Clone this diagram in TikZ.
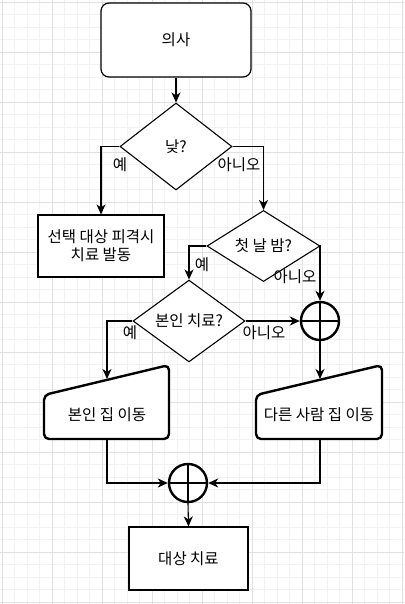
\documentclass[tikz,border=0pt]{standalone}
\usepackage{fontspec}
\setmainfont{Noto Sans CJK KR}
\usetikzlibrary{arrows.meta,shapes.geometric,calc}
\begin{document}
\begin{tikzpicture}[x=1pt,y=-1pt,
  every node/.style={font=\fontsize{15.5pt}{18pt}\selectfont, text=black, inner sep=0pt},
  minorgrid/.style={draw=black!5, line width=0.8pt},
  majorgrid/.style={draw=black!12, line width=0.8pt},
  thinbox/.style={draw=black, line width=1.2pt, fill=white},
  heavy/.style={draw=black, line width=2.4pt, fill=white, line join=round},
  decision/.style={diamond, draw=black, line width=1.1pt, fill=white, inner sep=0pt},
  junction/.style={circle, draw=black, line width=2.4pt, fill=white, minimum size=38pt},
  conn/.style={draw=black, line width=1.1pt, -{Stealth[length=10pt,width=9pt,inset=3pt]}},
  plainline/.style={draw=black, line width=1.1pt},
  elabel/.style={font=\fontsize{15.5pt}{18pt}\selectfont}
]
\useasboundingbox (0,0) rectangle (404,604);
\fill[white] (0,0) rectangle (404,604);
% grid
\foreach \i in {0,...,33} {
  \draw[minorgrid] ({-10.5+12.5*\i},0) -- ({-10.5+12.5*\i},604);
}
\foreach \i in {0,...,49} {
  \draw[minorgrid] (0,{-10.5+12.5*\i}) -- (404,{-10.5+12.5*\i});
}
\foreach \i in {0,...,8} {
  \draw[majorgrid] ({2+50*\i},0) -- ({2+50*\i},604);
}
\foreach \i in {0,...,12} {
  \draw[majorgrid] (0,{2+50*\i}) -- (404,{2+50*\i});
}

% nodes
\node[thinbox, rounded corners=8pt, minimum width=150pt, minimum height=74pt] (doc) at (176,40) {의사};
\node[decision, minimum width=112pt, minimum height=87pt] (day) at (176,146.5) {낮?};
\node[thinbox, minimum width=126pt, minimum height=62pt, align=center] (sel) at (101,246) {선택 대상 피격시\\치료 발동};
\node[decision, minimum width=113pt, minimum height=62pt] (night) at (263.5,246) {첫 날 밤?};
\node[junction] (j1) at (320,321) {};
\draw[line width=2.4pt] (j1.north) -- (j1.south) (j1.west) -- (j1.east);
\node[decision, minimum width=112pt, minimum height=62pt] (self) at (189,321) {본인 치료?};

% manual input shapes
\coordinate (hA) at (44,395);
\coordinate (hB) at (169,365);
\coordinate (hC) at (169,439);
\coordinate (hD) at (44,439);
\draw[heavy, rounded corners=5pt] (hA) -- (hB) -- (hC) -- (hD) -- cycle;
\node (home) at (107,415) {본인 집 이동};
\coordinate (homeIn) at (107,379);
\coordinate (homeOut) at (107,440);

\coordinate (oA) at (256,395);
\coordinate (oB) at (382,365);
\coordinate (oC) at (382,439);
\coordinate (oD) at (256,439);
\draw[heavy, rounded corners=5pt] (oA) -- (oB) -- (oC) -- (oD) -- cycle;
\node (other) at (319,415) {다른 사람 집 이동};
\coordinate (otherIn) at (320,379);
\coordinate (otherOut) at (320,440);

\node[junction] (j2) at (188,483) {};
\draw[line width=2.4pt] (j2.north) -- (j2.south) (j2.west) -- (j2.east);
\node[thinbox, minimum width=119pt, minimum height=63pt] (treat) at (188.5,558.5) {대상 치료};

% connectors
\draw[conn] (doc.south) -- (day.north);
\draw[conn] (day.west) -| (sel.north);
\draw[conn] (day.east) -| (night.north);
\draw[conn] (night.west) -| (self.north);
\draw[conn] (night.east) -| (j1.north);
\draw[conn] (self.west) -| (homeIn);
\draw[conn] (self.east) -- (j1.west);
\draw[conn] (j1.south) -- (otherIn);
\draw[conn] (homeOut) |- (j2.west);
\draw[conn] (otherOut) |- (j2.east);
\draw[conn] (j2.south) -- (treat.north);

% edge labels
\node[elabel] (l1) at (120,165) {예};
\node[elabel] (l2) at (239,165) {아니오};
\node[elabel] (l3) at (202,265) {예};
\node[elabel] (l4) at (295,277) {아니오};
\node[elabel] (l5) at (130,333) {예};
\node[elabel] (l6) at (264,333) {아니오};
\end{tikzpicture}
\end{document}
